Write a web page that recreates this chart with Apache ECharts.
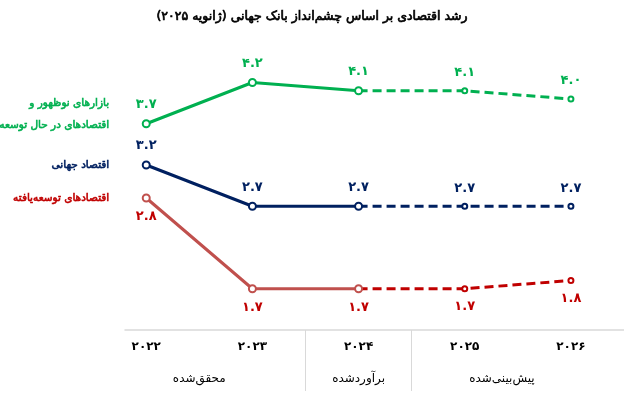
<!DOCTYPE html>
<html>
<head>
<meta charset="utf-8">
<script src="https://cdn.jsdelivr.net/npm/echarts@6/dist/echarts.min.js"></script>
<style>
  html, body { margin: 0; padding: 0; background: #fff; }
  #chart { width: 624px; height: 397px; }
</style>
</head>
<body>
<div id="chart"></div>
<script>
const years = [2022, 2023, 2024, 2025, 2026]
const emerging = [3.7, 4.2, 4.1, 4.1, 4.0]
const world = [3.2, 2.7, 2.7, 2.7, 2.7]
const advanced = [2.8, 1.7, 1.7, 1.7, 1.8]
const lastActual = 2 // index of 2024, where the forecast starts
const groupNames = ['محقق‌شده', 'برآوردشده', 'پیش‌بینی‌شده']
const groupCenters = [2022.5, 2024, 2025.35]
const groupBreaks = [2023.5, 2024.5]

const font = 'DejaVu Sans'
const fa = s => String(s).replace(/\d/g, d => '۰۱۲۳۴۵۶۷۸۹'[d])
const rtl = s => '\u200F' + s + '\u200F'

function pairs(vals, from, to) {
  let out = []
  for (let i = from; i <= to; i++) out.push([years[i], vals[i]])
  return out
}

// one solid (actual) + one dashed (forecast) series per group
function makeSeries(name, vals, solidColor, dashColor, labelColor, labelPos, nameOffset) {
  let label = {
    show: true,
    position: labelPos,
    distance: 8,
    color: labelColor,
    fontFamily: font,
    fontWeight: 'bold',
    fontSize: 13,
    formatter: p => fa(p.value[1].toFixed(1))
  }
  return [
    {
      type: 'line',
      data: pairs(vals, 0, lastActual),
      symbol: 'emptyCircle',
      symbolSize: 7,
      lineStyle: { color: solidColor, width: 3 },
      itemStyle: { color: solidColor, borderWidth: 2 },
      label: label,
      z: 3,
      markPoint: {
        symbol: 'circle',
        symbolSize: 0,
        silent: true,
        data: [{ coord: [years[0], vals[0]] }],
        label: {
          show: true,
          position: 'left',
          distance: 37,
          offset: nameOffset,
          color: labelColor,
          fontFamily: font,
          fontSize: 10.5,
          lineHeight: 22,
          align: 'right',
          textBorderColor: labelColor,
          textBorderWidth: 0.6,
          formatter: () => name.split('\n').map(rtl).join('\n')
        }
      }
    },
    {
      type: 'line',
      data: pairs(vals, lastActual, years.length - 1),
      symbol: 'emptyCircle',
      symbolSize: 5,
      lineStyle: { color: dashColor, width: 3, type: [9, 5] },
      itemStyle: { color: dashColor, borderWidth: 2 },
      label: Object.assign({}, label, {
        formatter: p => p.dataIndex === 0 ? '' : fa(p.value[1].toFixed(1))
      }),
      z: 2
    }
  ]
}

let myChart = echarts.init(document.getElementById('chart'))
myChart.setOption({
  backgroundColor: '#fff',
  animation: false,
  title: {
    text: rtl('رشد اقتصادی بر اساس چشم‌انداز بانک جهانی (ژانویه ' + fa(2025) + ')'),
    left: 'center',
    top: 5,
    textStyle: {
      fontFamily: font, fontWeight: 'normal', fontSize: 12.5, color: '#000',
      textBorderColor: '#000', textBorderWidth: 0.7
    }
  },
  grid: { left: 125, right: 0, top: 66, bottom: 67, containLabel: false },
  xAxis: [
    {
      type: 'value',
      min: 2021.8,
      max: 2026.5,
      splitLine: { show: false },
      axisLine: { show: true, lineStyle: { color: '#d9d9d9', width: 1.5 } },
      axisTick: { show: false },
      axisLabel: {
        customValues: years,
        margin: 11,
        color: '#000',
        fontFamily: font,
        fontWeight: 'bold',
        fontSize: 12,
        formatter: v => fa(v)
      }
    },
    {
      type: 'value',
      position: 'bottom',
      min: 2021.8,
      max: 2026.5,
      splitLine: { show: false },
      axisLine: { show: false },
      axisTick: {
        show: true,
        customValues: groupBreaks,
        length: 61,
        lineStyle: { color: '#d9d9d9', width: 1 }
      },
      axisLabel: {
        customValues: groupCenters,
        margin: 43,
        color: '#000',
        fontFamily: font,
        fontSize: 12,
        formatter: v => rtl(groupNames[groupCenters.indexOf(v)])
      }
    }
  ],
  yAxis: {
    type: 'value',
    min: 1.2,
    max: 4.4,
    show: false
  },
  series: [
    ...makeSeries('بازارهای نوظهور و\nاقتصادهای در حال توسعه', emerging, '#00b050', '#00b050', '#00b050', 'top', [0, -9]),
    ...makeSeries('اقتصاد جهانی', world, '#002060', '#002060', '#002060', 'top', [0, 0]),
    ...makeSeries('اقتصادهای توسعه‌یافته', advanced, '#c0504d', '#c00000', '#c00000', 'bottom', [0, 0])
  ]
})
</script>
</body>
</html>
